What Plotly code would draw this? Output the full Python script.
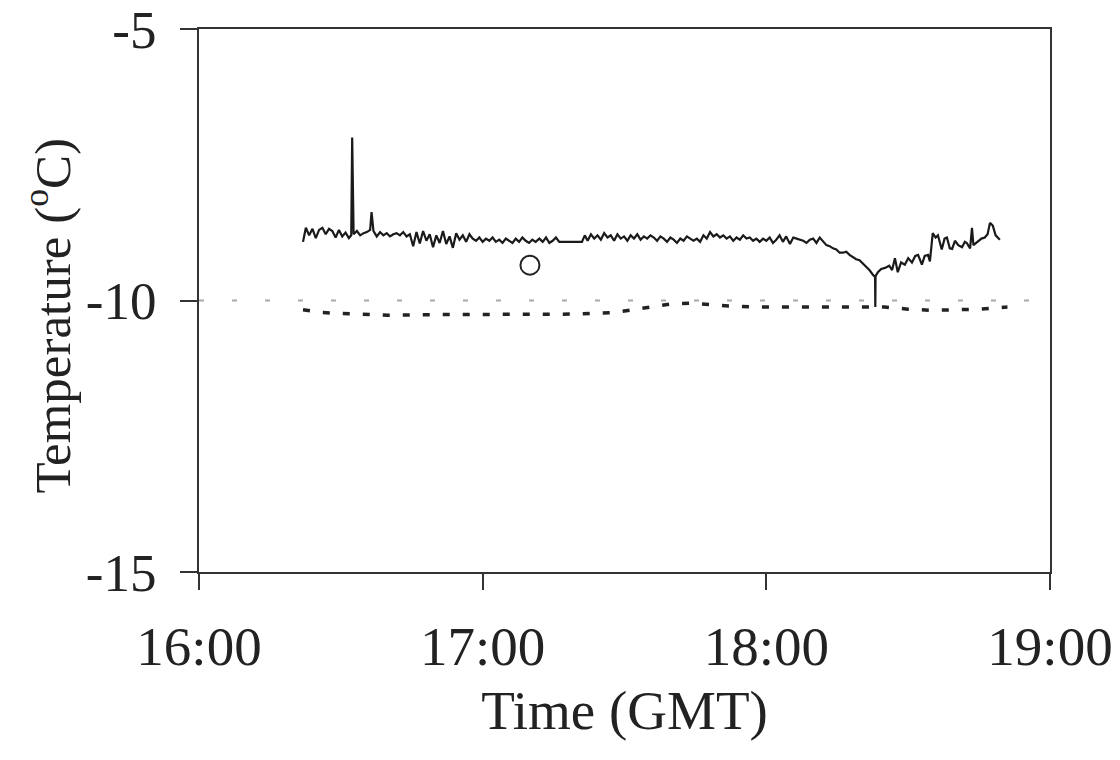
import plotly.graph_objects as go

# Time in minutes after 16:00 GMT, temperature in deg C
solid_minutes = [
    22.0, 22.6, 23.3, 24.0, 24.7, 25.4, 26.1, 26.8, 27.5, 28.2, 28.9, 29.6, 30.3, 31.0, 31.7,
    32.2, 32.4, 32.7, 33.4, 34.1, 34.8, 35.5, 36.2, 36.5, 36.9, 37.6, 38.3, 39.0, 39.7, 40.4,
    41.1, 41.8, 42.5, 43.2, 43.9, 44.6, 45.3, 46.0, 46.7, 47.4, 48.1, 48.8, 49.5, 50.2, 50.9,
    51.6, 52.3, 53.0, 53.7, 54.4, 55.1, 55.8, 56.5, 57.2, 57.9, 58.6, 59.3, 60.0, 60.7, 61.4,
    62.1, 62.8, 63.5, 64.2, 64.9, 65.6, 66.3, 67.0, 67.7, 68.4, 69.1, 69.8, 70.5, 71.2, 72.0,
    72.7, 73.4, 74.1, 74.8, 75.5, 76.2, 77.0, 81.0, 81.6, 82.2, 82.9, 83.6, 84.3, 85.0, 85.7,
    86.4, 87.1, 87.8, 88.5, 89.2, 89.9, 90.6, 91.3, 92.0, 92.7, 93.4, 94.1, 94.8, 95.5, 96.2,
    96.9, 97.6, 98.3, 99.0, 99.7, 100.4, 101.1, 101.8, 102.5, 103.2, 103.9, 104.6, 105.3, 106.0,
    106.7, 107.4, 108.1, 108.8, 109.5, 110.2, 110.9, 111.6, 112.3, 113.0, 113.7, 114.4, 115.1,
    115.8, 116.5, 117.2, 117.9, 118.6, 119.3, 120.0, 120.7, 121.4, 122.1, 122.8, 123.5, 124.2,
    125.0, 125.7, 126.4, 127.1, 127.8, 128.5, 129.2, 129.9, 130.6, 131.3, 132.0, 132.7, 133.4,
    134.1, 134.8, 135.5, 136.2, 136.9, 137.6, 138.3, 139.0, 139.7, 140.4, 141.1, 141.8, 142.5,
    143.0, 143.05, 143.1, 143.6, 144.3, 145.1, 146.0, 146.6, 147.2, 147.8, 148.5, 149.3, 150.0,
    150.8, 151.5, 152.1, 152.9, 153.5, 154.2, 154.6, 155.2, 155.8, 156.3, 157.1, 157.7, 158.2,
    158.8, 159.3, 159.9, 160.6, 161.4, 162.0, 162.4, 163.1, 163.5, 163.8, 164.8, 165.5, 166.2,
    166.8, 167.3, 167.9, 168.5, 169.0, 169.4,
]
solid_temp = [
    -8.92, -8.66, -8.80, -8.68, -8.85, -8.70, -8.66, -8.78, -8.68, -8.72, -8.84, -8.70, -8.82, -8.75, -8.85,
    -8.80, -7.00, -8.78, -8.72, -8.80, -8.76, -8.74, -8.70, -8.37, -8.72, -8.82, -8.74, -8.80, -8.76, -8.82,
    -8.78, -8.76, -8.80, -8.74, -8.82, -8.78, -9.00, -8.74, -8.95, -8.72, -8.90, -8.78, -9.02, -8.80, -8.94,
    -8.72, -8.96, -8.82, -9.03, -8.76, -8.88, -8.80, -8.92, -8.78, -8.86, -8.90, -8.84, -8.92, -8.86, -8.90,
    -8.84, -8.92, -8.88, -8.94, -8.86, -8.90, -8.94, -8.86, -8.92, -8.84, -8.90, -8.94, -8.88, -8.92, -8.86,
    -8.92, -8.84, -8.94, -8.90, -8.84, -8.92, -8.92, -8.92, -8.80, -8.90, -8.78, -8.86, -8.80, -8.88, -8.76,
    -8.84, -8.80, -8.90, -8.78, -8.86, -8.82, -8.90, -8.80, -8.86, -8.78, -8.88, -8.82, -8.86, -8.80, -8.84,
    -8.90, -8.82, -8.86, -8.92, -8.84, -8.88, -8.94, -8.86, -8.90, -8.82, -8.86, -8.90, -8.86, -8.92,
    -8.80, -8.86, -8.74, -8.82, -8.78, -8.84, -8.80, -8.86, -8.82, -8.90, -8.84, -8.88, -8.80,
    -8.86, -8.84, -8.90, -8.86, -8.92, -8.86, -8.90, -8.84, -8.94, -8.88, -8.80, -8.92, -8.82,
    -8.96, -8.84, -8.86, -8.88, -8.90, -8.94, -8.88, -8.86, -8.94, -8.84, -8.92, -8.98, -9.00,
    -9.04, -9.06, -9.12, -9.12, -9.10, -9.16, -9.20, -9.24, -9.26, -9.32, -9.38, -9.44, -9.52,
    -9.57, -10.12, -9.55, -9.48, -9.42, -9.40, -9.36, -9.44, -9.22, -9.48, -9.30, -9.34, -9.22,
    -9.30, -9.18, -9.16, -9.34, -9.18, -9.16, -9.28, -8.76, -8.84, -8.80, -9.06, -8.86, -8.84,
    -9.04, -9.05, -8.90, -8.98, -9.02, -8.92, -8.94, -9.04, -8.66, -8.98, -8.90, -8.86, -8.84,
    -8.78, -8.57, -8.62, -8.80, -8.85, -8.88,
]

dotted_minutes = [22, 26, 30, 40, 50, 60, 70, 80, 88, 93, 97, 100, 104, 108, 112, 118,
                  125, 132, 140, 145, 150, 155, 160, 165, 171]
dotted_temp = [-10.17, -10.22, -10.24, -10.27, -10.26, -10.26, -10.25, -10.25, -10.22, -10.16,
               -10.10, -10.06, -10.05, -10.08, -10.10, -10.12, -10.12, -10.12, -10.12, -10.12,
               -10.16, -10.18, -10.17, -10.16, -10.12]

ref_minutes = [0, 178]
ref_temp = [-10, -10]

circle_minutes = [70.0]
circle_temp = [-9.35]

x_tick_minutes = [0, 60, 120, 180]
x_tick_labels = ["16:00", "17:00", "18:00", "19:00"]
y_tick_values = [-5, -10, -15]
y_tick_labels = ["-5", "-10", "-15"]

font_family = "Liberation Serif, Times New Roman, serif"
font_size = 55

fig = go.Figure()

# Reference line at -10
fig.add_trace(go.Scatter(
    x=ref_minutes, y=ref_temp, mode='lines',
    line=dict(color='#a8a8a8', width=2, dash='5px,28px'),
    showlegend=False, hoverinfo='skip'
))

# Dotted series
fig.add_trace(go.Scatter(
    x=dotted_minutes, y=dotted_temp, mode='lines',
    line=dict(color='#222222', width=3.5, dash='7px,13px'),
    showlegend=False
))

# Measured temperature
fig.add_trace(go.Scatter(
    x=solid_minutes, y=solid_temp, mode='lines',
    line=dict(color='#1a1a1a', width=2.2),
    showlegend=False
))

# Single observation
fig.add_trace(go.Scatter(
    x=circle_minutes, y=circle_temp, mode='markers',
    marker=dict(symbol='circle-open', size=19, color='#222222', line=dict(width=2)),
    showlegend=False
))

fig.update_layout(
    width=1120,
    height=760,
    paper_bgcolor='white',
    plot_bgcolor='white',
    margin=dict(l=191, r=78, t=21, b=196),
    font=dict(family=font_family, size=font_size, color='#222222'),
)

fig.update_xaxes(
    range=[0, 180],
    tickvals=x_tick_minutes,
    ticktext=x_tick_labels,
    ticks='outside',
    ticklen=16,
    tickwidth=2,
    tickcolor='#333333',
    showline=True,
    linecolor='#333333',
    linewidth=2,
    mirror=True,
    showgrid=False,
    zeroline=False,
    automargin=False,
    ticklabeloverflow='allow',
    ticklabelstandoff=9,
    tickfont=dict(size=font_size),
    title=dict(text='Time (GMT)', font=dict(size=font_size), standoff=14),
)

fig.update_yaxes(
    range=[-15, -5],
    tickvals=y_tick_values,
    ticktext=y_tick_labels,
    ticks='outside',
    ticklen=17,
    tickwidth=2,
    tickcolor='#333333',
    showline=True,
    linecolor='#333333',
    linewidth=2,
    mirror=True,
    showgrid=False,
    zeroline=False,
    automargin=False,
    ticklabeloverflow='allow',
    ticklabelstandoff=13,
    tickfont=dict(size=53),
)

# Y axis title placed as an annotation for exact positioning
fig.add_annotation(
    text='Temperature (<sup>o</sup>C)',
    xref='paper', yref='paper',
    x=-0.177, y=0.473,
    xanchor='center', yanchor='middle',
    textangle=-90,
    showarrow=False,
    font=dict(size=51, family=font_family, color='#222222'),
)

fig.write_html("out.html")
